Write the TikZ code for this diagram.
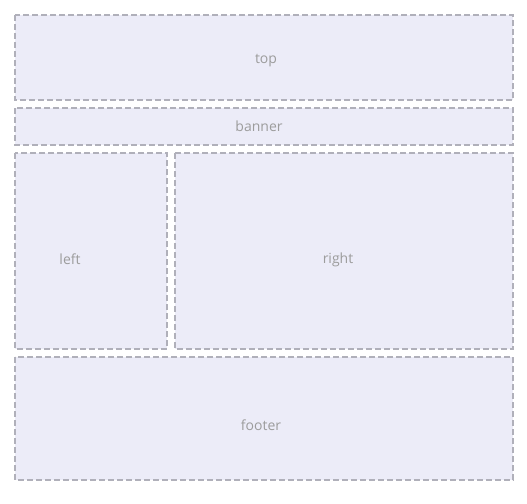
\documentclass[tikz,border=0pt]{standalone}
\usepackage{fontspec}
\setmainfont{Open Sans}
\definecolor{boxfill}{HTML}{ECECF8}
\definecolor{boxline}{HTML}{B0B0BA}
\definecolor{labelc}{HTML}{9C9C9C}
\begin{document}
\begin{tikzpicture}[x=1pt,y=-1pt,
  area/.style={draw=boxline,fill=boxfill,line width=1.2pt,dash pattern=on 6pt off 3pt},
  lab/.style={text=labelc,font=\fontsize{14}{16}\selectfont,inner sep=0pt}]
\useasboundingbox (0,0) rectangle (527,503);
\draw[area] (15,15) rectangle (513,100);
\draw[area] (15,108) rectangle (513,145);
\draw[area] (15,153) rectangle (167,349);
\draw[area] (175,153) rectangle (513,349);
\draw[area] (15,357) rectangle (513,480);
\node[lab] (top) at (266,60.5) {top};
\node[lab] (banner) at (259,126.5) {banner};
\node[lab] (left) at (70,259.5) {left};
\node[lab] (right) at (338,259.5) {right};
\node[lab] (footer) at (261,425.5) {footer};
\end{tikzpicture}
\end{document}
